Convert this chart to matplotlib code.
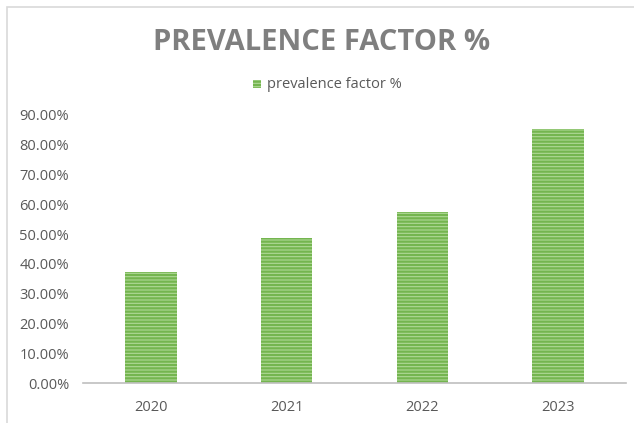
import matplotlib
matplotlib.use("Agg")
import matplotlib.pyplot as plt
from matplotlib.patches import Rectangle
from matplotlib.ticker import FuncFormatter

years = ["2020", "2021", "2022", "2023"]
values = [37.3, 48.8, 57.4, 85.3]
series_name = "prevalence factor %"
title = "PREVALENCE FACTOR %"
yticks = [0, 10, 20, 30, 40, 50, 60, 70, 80, 90]

plt.rcParams['font.family'] = ['Open Sans', 'DejaVu Sans']
plt.rcParams['hatch.linewidth'] = 1.6

W, H = 634, 423
fig = plt.figure(figsize=(W/100, H/100), dpi=100)
fig.patches.append(Rectangle((7/W, -0.1), 1.2, (H-7)/H + 0.1, transform=fig.transFigure,
                             fill=False, edgecolor='#d9d9d9', linewidth=1.2))

ax = fig.add_axes([83/W, 40/H, (626-83)/W, 268/H])
x = list(range(len(years)))
bars = ax.bar(x, values, width=0.38, color='#afd896', edgecolor='#74b54f',
              linewidth=0, hatch='-----', label=series_name)
ax.set_xlim(-0.5, 3.5)
ax.set_ylim(0, 90)
ax.set_yticks(yticks)
ax.yaxis.set_major_formatter(FuncFormatter(lambda v, p: f"{v:.2f}%"))
ax.set_xticks(x)
ax.set_xticklabels(years)
for s in ['top', 'right', 'left']:
    ax.spines[s].set_visible(False)
ax.spines['bottom'].set_color('#bfbfbf')
ax.spines['bottom'].set_linewidth(1.2)
ax.tick_params(axis='both', length=0, colors='#595959', labelsize=10.5)
ax.tick_params(axis='y', pad=10)
ax.tick_params(axis='x', pad=12)

fig.text(0.5 + 5/W, (H-43)/H, title, ha='center', va='center', fontsize=21,
         fontweight='bold', color='#7f7f7f')
# legend
fig.patches.append(Rectangle((253/W, (H-88)/H), 8/W, 8/H, transform=fig.transFigure,
                             facecolor='#afd896', edgecolor='#74b54f', hatch='-----', linewidth=0))
fig.text(267/W, (H-84)/H, series_name, ha='left', va='center', fontsize=10.5, color='#595959')

fig.savefig("out.png", dpi=100)
